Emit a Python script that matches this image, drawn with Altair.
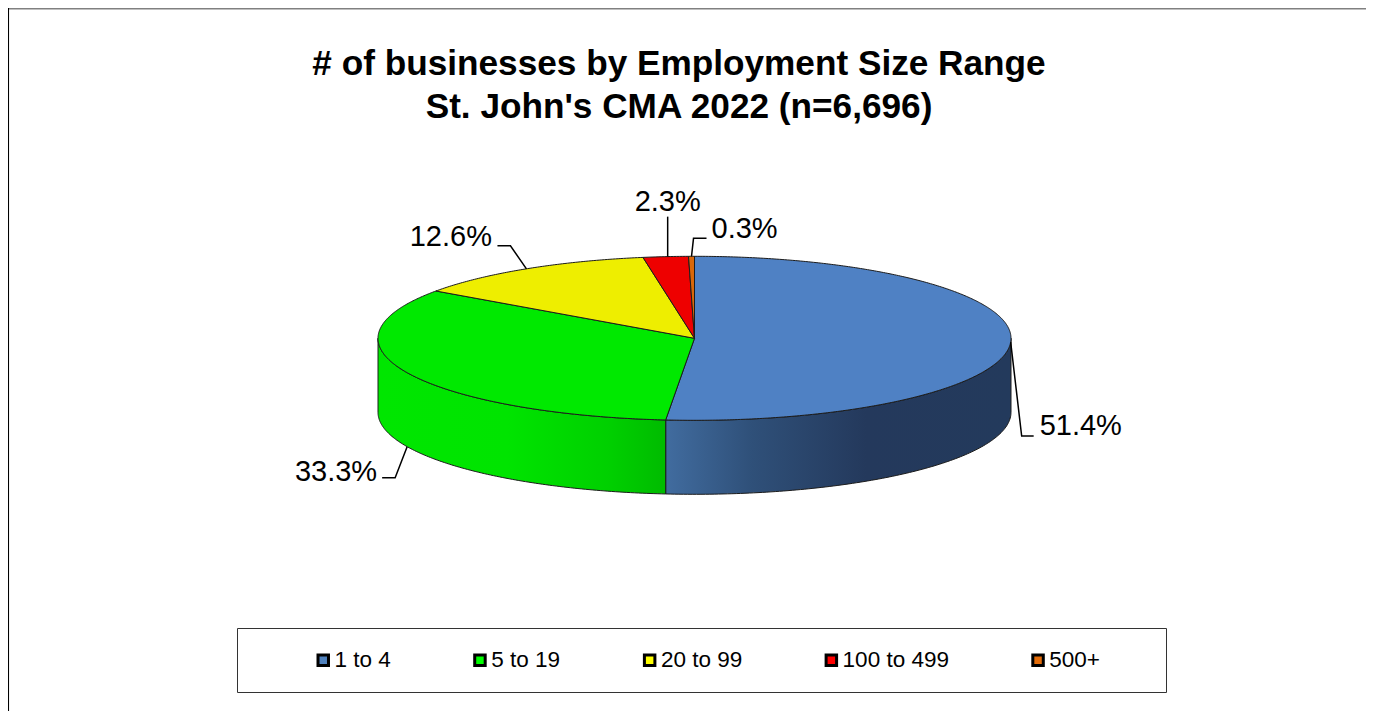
import numpy as np
import pandas as pd
import altair as alt

# --- chart values -----------------------------------------------------------
categories = ["1 to 4", "5 to 19", "20 to 99", "100 to 499", "500+"]
shares = [51.4, 33.3, 12.6, 2.3, 0.3]
pct_labels = ["51.4%", "33.3%", "12.6%", "2.3%", "0.3%"]
legend_colors = ["#4F81BD", "#00FF00", "#FFFF00", "#FF0000", "#E36C09"]
top_colors = ["#4F81C4", "#00E900", "#EEEE00", "#EE0000", "#D9680A"]

# --- layout (canvas pixels) -------------------------------------------------
W, H = 1358, 703
CX, CY, RX, RY, DEPTH = 686.5, 330.3, 316.5, 82.0, 74.0

x_enc = alt.X("x:Q", axis=None, scale=alt.Scale(domain=[0, W], nice=False, zero=False))
y_enc = alt.Y("y:Q", axis=None, scale=alt.Scale(domain=[H, 0], nice=False, zero=False))


def rim(deg):
    t = np.radians(deg)
    return CX + RX * np.sin(t), CY - RY * np.cos(t)


fractions = np.array(shares) / sum(shares)
edges = np.concatenate([[0.0], np.cumsum(fractions)]) * 360.0
layers = []


# side wall pieces: front half of the disc only
def wall(a0, a1, stops):
    t = np.linspace(a0, a1, 120)
    xs, ys = rim(t)
    df = pd.DataFrame({"x": xs, "y": ys, "y2": ys + DEPTH})
    grad = alt.Gradient(
        gradient="linear", x1=0, y1=0, x2=1, y2=0,
        stops=[alt.GradientStop(offset=o, color=c) for o, c in stops],
    )
    return alt.Chart(df).mark_area(color=grad, stroke="#1c1c1c", strokeWidth=1).encode(
        x=x_enc, y=y_enc, y2="y2:Q"
    )


layers.append(wall(90, edges[1], [(0, "#416C9F"), (0.25, "#2F5079"), (0.58, "#24395C"), (1, "#233A5C")]))
layers.append(wall(edges[1], 270, [(0, "#00E600"), (0.45, "#00E400"), (0.8, "#00D000"), (1, "#00BB00")]))

# top surface
for i in range(len(shares)):
    t = np.linspace(edges[i], edges[i + 1], max(4, int((edges[i + 1] - edges[i]) * 2)))
    xs, ys = rim(t)
    df = pd.DataFrame({
        "x": np.concatenate([[CX], xs, [CX]]),
        "y": np.concatenate([[CY], ys, [CY]]),
    })
    df["o"] = range(len(df))
    layers.append(
        alt.Chart(df).mark_line(fill=top_colors[i], stroke="#1c1c1c", strokeWidth=1, interpolate="linear")
        .encode(x=x_enc, y=y_enc, order="o:Q")
    )

# leader lines and value labels, placed relative to each slice's mid-angle on the rim
anchor_drop = [0, DEPTH, 0, 0, 0]
leader_dx = [[0, 11, 23], [0, -12, -25], [0, -16, -29], [2, 2], [0, 2, 15]]
leader_dy = [[0, 94, 94], [0, 31, 31], [0, -23, -23], [0, -40], [0, -18, -18]]
label_dx = [29, -30, -34.5, 2, 20]
label_dy = [83.5, 25, -32, -55, -27]
label_align = ["left", "right", "right", "center", "left"]

for i in range(len(shares)):
    ax, ay = rim((edges[i] + edges[i + 1]) / 2)
    ay = ay + anchor_drop[i]
    df = pd.DataFrame({"x": ax + np.array(leader_dx[i]), "y": ay + np.array(leader_dy[i])})
    df["o"] = range(len(df))
    layers.append(
        alt.Chart(df).mark_line(color="black", strokeWidth=1.5).encode(x=x_enc, y=y_enc, order="o:Q")
    )
    lab = pd.DataFrame({"x": [ax + label_dx[i]], "y": [ay + label_dy[i]], "t": [pct_labels[i]]})
    layers.append(
        alt.Chart(lab).mark_text(
            font="Liberation Sans", fontSize=29, color="black",
            align=label_align[i], baseline="middle",
        ).encode(x=x_enc, y=y_enc, text="t:N")
    )

# frame of the chart area
layers.append(
    alt.Chart(pd.DataFrame({"a": [0]})).mark_rule(color="#808080", strokeWidth=2)
    .encode(x=alt.value(0), x2=alt.value(W), y=alt.value(0.5))
)
layers.append(
    alt.Chart(pd.DataFrame({"a": [0]})).mark_rule(color="black", strokeWidth=1.5)
    .encode(x=alt.value(0.3), y=alt.value(0), y2=alt.value(H))
)

# legend box
box = pd.DataFrame({"x": [229.5], "x2": [1158.5], "y": [620.5], "y2": [684.5]})
layers.append(
    alt.Chart(box).mark_rect(fill="white", stroke="#333333", strokeWidth=1)
    .encode(x=x_enc, x2="x2:Q", y=y_enc, y2="y2:Q")
)

# legend
leg = pd.DataFrame({"cat": categories, "x": [CX] * 5, "y": [CY] * 5})
layers.append(
    alt.Chart(leg).mark_point(filled=True, size=0, opacity=0).encode(
        x=x_enc, y=y_enc,
        fill=alt.Fill(
            "cat:N",
            scale=alt.Scale(domain=categories, range=legend_colors),
            sort=categories,
            legend=alt.Legend(
                orient="none", legendX=304, legendY=641, direction="horizontal", columns=5,
                title=None, symbolType="square", symbolSize=110, symbolStrokeWidth=3,
                symbolStrokeColor="black", symbolOpacity=1,
                labelFont="Liberation Sans", labelFontSize=22.5, labelColor="black",
                labelOffset=0, columnPadding=77.7, gridAlign="none", padding=0,
                labelLimit=300,
            ),
        ),
    )
)

chart = alt.layer(*layers).properties(
    width=W, height=H,
    padding=0,
    autosize=alt.AutoSizeParams(type="none"),
    title=alt.TitleParams(
        text=["# of businesses by Employment Size Range", "St. John's CMA 2022 (n=6,696)"],
        font="Liberation Sans", fontSize=35.2, fontWeight="bold", color="black",
        anchor="middle", frame="group", lineHeight=43, dx=-8, dy=118, offset=0,
    ),
).configure_view(stroke=None)

chart.save("out.html", embed_options={"renderer": "svg", "actions": False})
